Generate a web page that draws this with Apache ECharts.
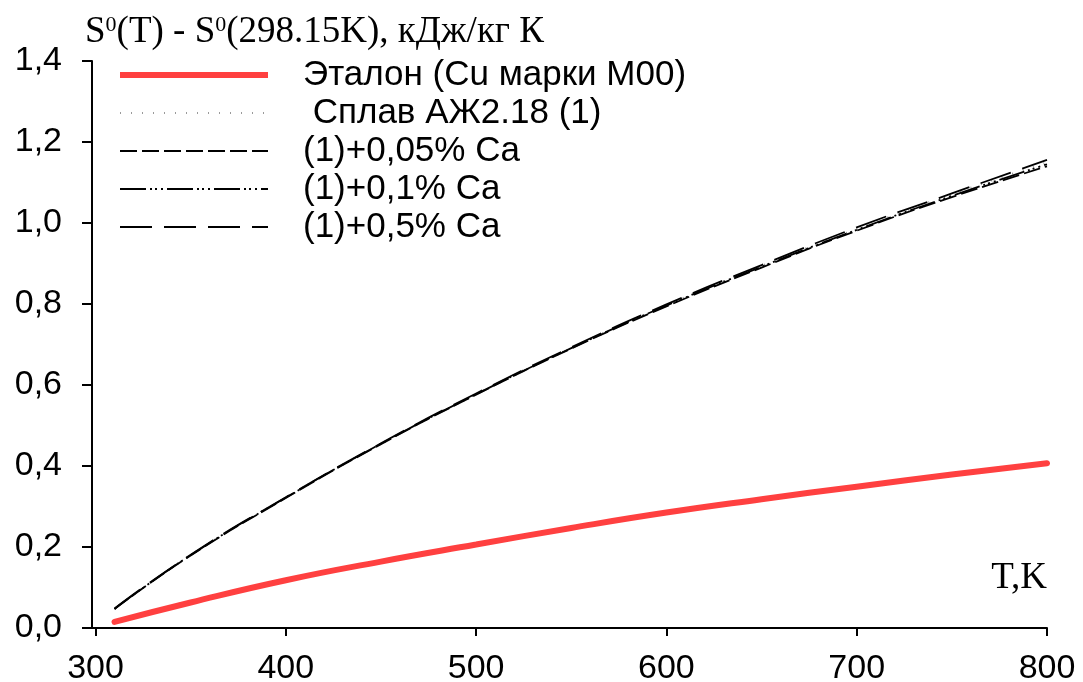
<!DOCTYPE html>
<html>
<head>
<meta charset="utf-8">
<script src="https://cdn.jsdelivr.net/npm/echarts@6/dist/echarts.min.js"></script>
<style>html,body{margin:0;padding:0;background:#fff}#c{width:1083px;height:682px}</style>
</head>
<body>
<div id="c"></div>
<script>
// Temperatures, K
const temps = [310, 350, 400, 450, 500, 550, 600, 650, 700, 750, 800];
// S0(T) - S0(298.15K), kJ/(kg K)
const etalon = [0.015, 0.063, 0.118, 0.164, 0.206, 0.247, 0.285, 0.318, 0.349, 0.379, 0.407];
const alloy1 = [0.047, 0.180, 0.322, 0.455, 0.578, 0.692, 0.797, 0.894, 0.985, 1.071, 1.150];
const ca005 = [0.047, 0.179, 0.321, 0.454, 0.576, 0.690, 0.794, 0.890, 0.981, 1.064, 1.140];
const ca01  = [0.047, 0.180, 0.322, 0.455, 0.577, 0.691, 0.796, 0.892, 0.983, 1.067, 1.145];
const ca05  = [0.048, 0.181, 0.323, 0.456, 0.579, 0.693, 0.799, 0.896, 0.989, 1.073, 1.156];
const names = ['Эталон (Cu марки М00)', ' Сплав АЖ2.18 (1)', '(1)+0,05% Ca', '(1)+0,1% Ca', '(1)+0,5% Ca'];
const xTicks = [300, 400, 500, 600, 700, 800];
const xMin = 298.15, xMax = 800;
const yMin = 0, yMax = 1.4, yStep = 0.2;

const pair = arr => temps.map((t, i) => [t, arr[i]]);
const styles = [
  {color: '#ff4040', width: 6, type: 'solid', cap: 'round'},
  {color: '#9a9a9a', width: 2, type: [1, 10], cap: 'butt'},
  {color: '#000', width: 1.8, type: [17, 5], cap: 'butt'},
  {color: '#000', width: 1.8, type: [26, 4, 2, 3, 2, 4, 2, 4], cap: 'butt'},
  {color: '#000', width: 1.8, type: [32, 12], cap: 'butt'}
];
const datas = [etalon, alloy1, ca005, ca01, ca05];
const order = [1, 2, 3, 4, 0];

const chart = echarts.init(document.getElementById('c'), null, {renderer: 'canvas'});
chart.setOption({
  animation: false,
  backgroundColor: '#fff',
  grid: {left: 92, right: 36, top: 61, bottom: 54, containLabel: false, outerBoundsMode: 'none'},
  legend: {
    orient: 'vertical', left: 117, top: 56, padding: 0,
    itemWidth: 148, itemHeight: 14, itemGap: 0,
    data: names.map((n, i) => ({name: n, lineStyle: {width: i === 0 ? 6 : 1.8, cap: 'butt'}})),
    textStyle: {fontFamily: 'Liberation Sans', fontSize: 35, color: '#000', lineHeight: 38, padding: [0, 0, 0, 30]},
    itemStyle: {opacity: 0}
  },
  xAxis: {
    type: 'value', min: xMin, max: xMax,
    axisLine: {show: true, onZero: false, lineStyle: {color: '#000', width: 2}},
    axisTick: {show: true, length: 8, lineStyle: {color: '#000', width: 2}, customValues: xTicks},
    axisLabel: {customValues: xTicks, fontFamily: 'Liberation Sans', fontSize: 34, color: '#000', margin: 24},
    splitLine: {show: false}
  },
  yAxis: {
    type: 'value', min: yMin, max: yMax, interval: yStep,
    axisLine: {show: true, lineStyle: {color: '#000', width: 2}},
    axisTick: {show: true, length: 10, lineStyle: {color: '#000', width: 2}},
    axisLabel: {fontFamily: 'Liberation Sans', fontSize: 34, color: '#000', margin: 30,
      formatter: v => v.toFixed(1).replace('.', ',')},
    splitLine: {show: false}
  },
  graphic: [
    {type: 'text', left: 85, top: 14, style: {
      rich: {
        t: {fontFamily: 'Liberation Serif', fontSize: 37, fill: '#000', verticalAlign: 'bottom'},
        s: {fontFamily: 'Liberation Serif', fontSize: 22, fill: '#000', verticalAlign: 'top'}
      },
      text: '{t|S}{s|0}{t|(T) - S}{s|0}{t|(298.15K), кДж/кг К}'
    }},
    {type: 'text', right: 36, top: 560, style: {
      text: 'T,K', fontFamily: 'Liberation Serif', fontSize: 37, fill: '#000'
    }}
  ],
  series: order.map(i => ({
    name: names[i], type: 'line', data: pair(datas[i]), smooth: true,
    symbol: 'none', showSymbol: false,
    lineStyle: {color: styles[i].color, width: styles[i].width, type: styles[i].type, cap: styles[i].cap},
    itemStyle: {color: styles[i].color},
    z: i === 0 ? 3 : 2
  }))
});
</script>
</body>
</html>
